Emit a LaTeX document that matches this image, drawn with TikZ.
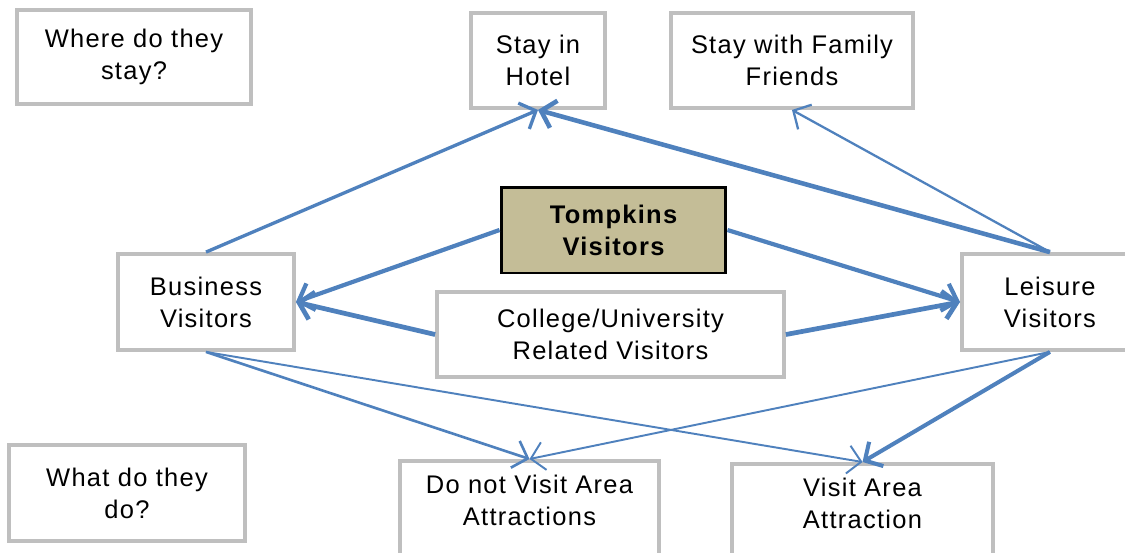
\documentclass[tikz,border=0pt]{standalone}
\usepackage{fontspec}
\setmainfont{Liberation Sans}[LetterSpace=5]
\usetikzlibrary{arrows.meta}
\definecolor{linkblue}{HTML}{4F81BD}
\definecolor{boxgray}{HTML}{BFBFBF}
\definecolor{boxtan}{HTML}{C4BD97}
\begin{document}
\begin{tikzpicture}[x=0.02cm, y=-0.02cm,
  box/.style={draw=boxgray, line width=2.2pt, fill=white, align=center, inner sep=0pt,
    font=\fontsize{14.5}{18.2}\selectfont},
  link/.style={draw=linkblue, line width=#1, -{Straight Barb[length=7.5pt,width=16pt]}},
  link/.default=1.7pt]
  \useasboundingbox (0,0) rectangle (1125,552);
  \node[box, minimum width=4.68cm, minimum height=1.88cm] (where) at (134,57) {Where do they\\stay?};
  \node[box, minimum width=2.68cm, minimum height=1.9cm] (hotel) at (538,60.5) {Stay in\\Hotel};
  \node[box, minimum width=4.84cm, minimum height=1.9cm] (family) at (792,60.5) {Stay with Family\\Friends};
  \node[box, draw=black, line width=1.7pt, fill=boxtan, minimum width=4.5cm, minimum height=1.72cm,
    font=\fontsize{14.5}{18.2}\selectfont\bfseries] (tompkins) at (613.5,230) {Tompkins\\Visitors};
  \node[box, minimum width=3.52cm, minimum height=1.92cm] (business) at (206,302) {Business\\Visitors};
  \node[box, minimum width=6.94cm, minimum height=1.7cm] (college) at (610.5,334.5) {College/University\\Related Visitors};
  \node[box, anchor=west, minimum width=3.52cm, minimum height=1.92cm] (leisure) at (960,302) {Leisure\\Visitors};
  \node[box, minimum width=4.72cm, minimum height=1.92cm] (what) at (127,493) {What do they\\do?};
  % lower boxes run past the bottom edge
  \node[box, anchor=north, minimum width=5.18cm, inner ysep=0.29cm, text depth=1.4cm] (novisit) at (529.5,459) {Do not Visit Area\\Attractions};
  \node[box, anchor=north, minimum width=5.22cm, inner ysep=0.29cm, text depth=1.4cm] (visit) at (862.5,462) {Visit Area\\Attraction};

  \draw[link=1.9pt] (business.north) -- (hotel.south);
  \draw[link=2.6pt] (leisure.north) -- (hotel.south);
  \draw[link=1.3pt] (leisure.north) -- (family.south);
  \draw[link=2.4pt] (tompkins.west) -- (business.east);
  \draw[link=2.7pt] (college.west) -- (business.east);
  \draw[link=2.4pt] (tompkins.east) -- (leisure.west);
  \draw[link=2.7pt] (college.east) -- (leisure.west);
  \draw[link=1.5pt] (business.south) -- (novisit.north);
  \draw[link=1.1pt] (business.south) -- (visit.north);
  \draw[link=1.1pt] (leisure.south) -- (novisit.north);
  \draw[link=2.3pt] (leisure.south) -- (visit.north);
\end{tikzpicture}
\end{document}
